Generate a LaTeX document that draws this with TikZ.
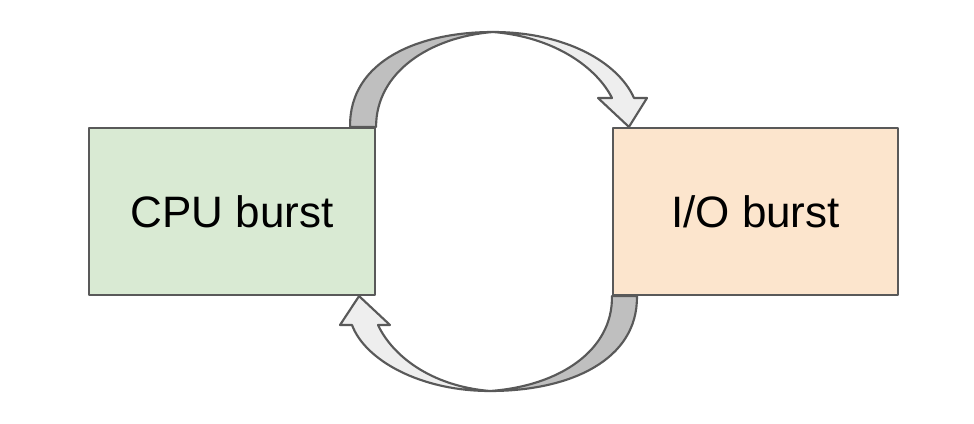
\documentclass[tikz,border=0pt]{standalone}
\usepackage{fontspec}
\setmainfont{Liberation Sans}
\usetikzlibrary{calc}
\definecolor{cpugreen}{HTML}{D9EAD3}
\definecolor{ioorange}{HTML}{FCE5CD}
\definecolor{edgegray}{HTML}{595959}
\definecolor{backgray}{HTML}{BFBFBF}
\definecolor{frontgray}{HTML}{EEEEEE}

\begin{document}
\begin{tikzpicture}[x=0.75pt, y=-0.75pt, line join=round]
		%%%%% START %%%%%
		\useasboundingbox (0, 0) rectangle (974, 424);
		
		\node[draw=edgegray, line width=1.6pt, fill=cpugreen, inner sep=0pt, minimum width=214.5pt, minimum height=125.25pt, font=\fontsize{33}{39}\selectfont] (cpu) at (232, 211.5) {CPU burst};
		\node[draw=edgegray, line width=1.6pt, fill=ioorange, inner sep=0pt, minimum width=213.75pt, minimum height=125.25pt, font=\fontsize{33}{39}\selectfont] (io) at (755.5, 211.5) {I/O burst};
		
		\coordinate (topin) at (cpu.north east);
		\coordinate (topout) at ($(cpu.north east)+(-26, 0)$);
		\coordinate (toptip) at ($(io.north west)+(17, 0)$);
		\coordinate (botin) at (io.south west);
		\coordinate (botout) at ($(io.south west)+(25, 0)$);
		\coordinate (bottip) at ($(cpu.south east)+(-17, 0)$);
		
		\draw[line width=1.6pt, color=edgegray, fill=backgray] (topout) .. controls (349, 60) and (420, 32) .. (493, 32) .. controls (430, 37) and (376, 72) .. (topin) -- cycle;
		\draw[line width=1.6pt, color=edgegray, fill=frontgray] (493, 32) .. controls (565, 32) and (618, 62) .. (634, 98) -- (647, 98) -- (toptip) -- (598, 98) -- (612, 98) .. controls (597, 68) and (555, 37) .. (493, 32) -- cycle;
		
		\draw[line width=1.6pt, color=edgegray, fill=backgray] (botout) .. controls (638, 360) and (570, 391) .. (490, 391) .. controls (560, 386) and (613, 350) .. (botin) -- cycle;
		\draw[line width=1.6pt, color=edgegray, fill=frontgray] (490, 391) .. controls (420, 391) and (365, 360) .. (352, 325) -- (340, 325) -- (bottip) -- (390, 325) -- (378, 325) .. controls (392, 355) and (430, 386) .. (490, 391) -- cycle;
		
		%%%%% END %%%%%
	\end{tikzpicture}
\end{document}
